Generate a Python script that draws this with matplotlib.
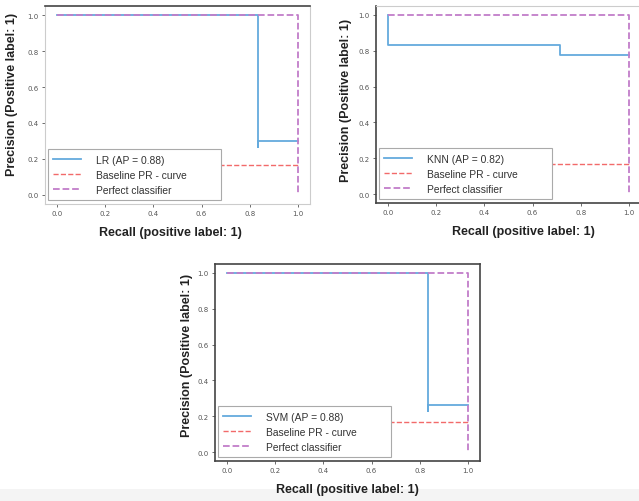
import matplotlib.pyplot as plt
from matplotlib.patches import Rectangle

# step curves (recall, precision)
lr_recall = [0.0, 0.833, 0.833, 0.833, 1.0]
lr_precision = [1.0, 1.0, 0.265, 0.30, 0.30]
knn_recall = [0.0, 0.0, 0.714, 0.714, 1.0]
knn_precision = [1.0, 0.833, 0.833, 0.778, 0.778]
svm_recall = [0.0, 0.833, 0.833, 0.833, 1.0]
svm_precision = [1.0, 1.0, 0.23, 0.26, 0.26]

baseline = 0.167
perfect_recall = [0.0, 1.0, 1.0]
perfect_precision = [1.0, 1.0, 0.0]

labels = ['LR (AP = 0.88)', 'KNN (AP = 0.82)', 'SVM (AP = 0.88)']
ticks = [0.0, 0.2, 0.4, 0.6, 0.8, 1.0]

BLUE = '#64aadd'
RED = '#f26a6a'
PURPLE = '#c27dc9'
FONT = 'Liberation Sans'

W, H = 639, 502


def px_axes(fig, left, top, right, bottom):
    return fig.add_axes([left / W, 1 - bottom / H, (right - left) / W, (bottom - top) / H])


def pr_panel(ax, recall, precision, label, dark_spines, xlab_x, ylab_xy):
    ax.plot(recall, precision, color=BLUE, lw=1.3, label=label)
    ax.plot([0, 1], [baseline, baseline], color=RED, lw=1.0, ls='--', label='Baseline PR - curve')
    ax.plot(perfect_recall, perfect_precision, color=PURPLE, lw=1.3, ls='--', label='Perfect classifier')
    ax.set_xlim(-0.05, 1.05)
    ax.set_ylim(-0.05, 1.05)
    ax.set_xticks(ticks)
    ax.set_yticks(ticks)
    ax.set_xticklabels([f'{t:.1f}' for t in ticks])
    ax.set_yticklabels([f'{t:.1f}' for t in ticks])
    ax.tick_params(labelsize=5, colors='#555555', length=2.5, width=0.6, pad=2)
    for side, sp in ax.spines.items():
        sp.set_color('#444444' if side in dark_spines else '#cccccc')
        sp.set_linewidth(1.2 if side in dark_spines else 0.8)
    ax.set_xlabel('Recall (positive label: 1)', fontsize=9, family=FONT, weight='bold',
                  color='#222222')
    ax.xaxis.set_label_coords(xlab_x, -0.11)
    ax.set_ylabel('Precision (Positive label: 1)', fontsize=9, family=FONT, weight='bold',
                  color='#222222')
    ax.yaxis.set_label_coords(*ylab_xy)
    leg = ax.legend(loc='lower left', bbox_to_anchor=(3 / 265, 4 / 198, 173 / 265, 0.3),
                    mode='expand', borderaxespad=0, prop={'family': FONT, 'size': 7.4},
                    handlelength=2.7, handletextpad=1.45, labelspacing=0.5,
                    fancybox=False, framealpha=1, edgecolor='#aaaaaa', borderpad=0.5)
    leg.get_frame().set_linewidth(0.8)
    for t in leg.get_texts():
        t.set_color('#333333')


fig = plt.figure(figsize=(W / 100, H / 100), dpi=100)
fig.patches.append(Rectangle((0, 0), 1, 12 / H, transform=fig.transFigure,
                             facecolor='#f4f4f4', edgecolor='none', zorder=-10))

ax1 = px_axes(fig, 45, 7, 310, 205)
pr_panel(ax1, lr_recall, lr_precision, labels[0], ['top'], 0.474, (-0.10, 0.557))

ax2 = px_axes(fig, 376, 7, 641, 204)
pr_panel(ax2, knn_recall, knn_precision, labels[1], ['left', 'bottom'], 0.558, (-0.09, 0.528))

ax3 = px_axes(fig, 215, 265, 480, 462)
pr_panel(ax3, svm_recall, svm_precision, labels[2], ['left', 'bottom', 'top', 'right'],
         0.5, (-0.083, 0.543))

fig.savefig('out.png', dpi=100)
